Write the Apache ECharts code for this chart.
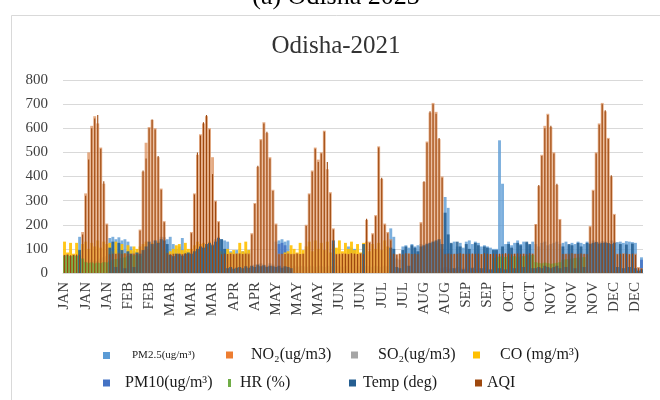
<!DOCTYPE html>
<html><head><meta charset="utf-8">
<script src="https://cdn.jsdelivr.net/npm/echarts@6/dist/echarts.min.js"></script>
<style>html,body{margin:0;padding:0;background:#fff}#c{width:660px;height:400px}</style>
</head><body><div id="c"></div>
<script>
const tickLabels = ['JAN','JAN','JAN','FEB','FEB','MAR','MAR','MAR','APR','APR','MAY','MAY','MAY','JUN','JUN','JUL','JUL','AUG','AUG','SEP','SEP','OCT','OCT','NOV','NOV','NOV','DEC','DEC'];
const seriesNames = ['PM2.5(ug/m³)','NO₂(ug/m3)','SO₂(ug/m3)','CO (mg/m³)','PM10(ug/m³)','HR (%)','Temp (deg)','AQI'];

const pm25 = [
30,40,45,40,50,150,60,
50,45,55,50,50,60,65,70,
145,150,140,148,135,140,130,110,90,85,
85,90,100,95,110,120,130,150,148,140,
150,120,100,110,145,90,80,90,
95,100,95,110,105,115,120,140,150,
140,135,130,90,85,95,80,90,85,95,
30,35,30,40,35,30,40,35,
130,135,140,130,135,80,
30,25,30,28,25,30,28,25,30,28,25,30,28,60,30,28,25,30,110,105,100,30,28,25,
30,28,25,30,28,25,30,28,
185,150,60,55,110,115,105,120,110,115,
120,110,125,120,130,125,130,100,
315,270,
120,130,110,125,105,130,135,120,130,125,110,115,110,105,100,
100,550,370,120,130,115,125,135,120,130,125,115,130,120,110,125,130,115,120,125,130,120,125,130,115,125,120,130,125,120,
130,125,135,130,128,132,130,125,135,130,128,130,125,132,130,128,125,
20,65];

const no2 = [
75,78,72,76,74,80,
170,330,500,610,650,620,520,370,205,
80,78,82,80,79,81,78,80,82,80,
180,420,540,605,635,600,480,350,215,
85,80,78,80,82,79,80,78,170,
330,490,575,620,650,600,480,300,215,
80,82,78,80,79,81,80,78,80,82,
165,290,440,555,625,580,480,345,205,
80,78,80,82,79,80,82,78,80,
200,330,425,520,470,500,590,430,335,185,
80,78,82,80,79,81,80,78,82,80,
220,130,165,240,525,390,205,170,140,
80,78,80,75,80,82,78,80,79,
211,377,545,665,705,668,555,400,
80,82,80,78,82,80,79,81,80,78,82,80,79,81,80,78,80,
80,78,82,80,79,81,80,78,82,80,79,81,80,
203,360,490,610,660,605,500,365,224,
80,78,82,80,79,81,80,78,80,
195,345,500,620,705,670,560,400,245,
80,78,82,80,79,81,80,
25,20];

const so2 = [
5,6,5,5,4,5,6,5,5,4,5,6,5,5,4,5,6,5,5,4,5,6,5,5,4,5,
6,5,5,4,5,6,5,5,4,5,6,5,5,4,5,6,5,5,4,5,6,5,5,4,5,6,
20,25,30,28,25,30,22,28,25,30,25,28,30,25,30,28,25,30,28,25,30,28,25,30,
5,6,5,5,4,5,6,5,5,4,5,6,5,5,4,5,6,5,5,4,
5,6,5,5,4,5,6,5,5,4,5,6,5,5,4,5,6,5,5,4,
5,6,5,5,4,5,6,5,5,4,5,6,5,5,4,5,6,5,5,4,
5,6,5,5,4,5,6,5,5,4,5,6,5,5,4,5,6,5,5,4,
5,6,5,5,4,5,6,5,5,4,5,6,5,5,4,5,6,5,5,4,
5,6,5,5,4,5,6,5,5,4,5,6,5,5,4,5];

const co = [
130,85,125,80,125,90,120,
130,100,125,110,135,105,130,120,125,
90,130,85,120,80,115,95,110,100,
110,120,130,100,125,115,130,105,95,85,
90,100,115,120,95,125,100,100,
115,130,120,125,110,130,115,105,95,
90,80,100,85,95,80,125,90,130,95,
4,3,5,4,3,5,4,3,5,4,3,
85,90,115,
100,85,125,95,110,130,90,135,100,125,95,130,85,120,105,135,90,125,100,130,95,120,85,125,
130,90,120,100,125,95,135,110,60,
5,3,4,5,3,4,5,3,4,
4,3,5,4,3,5,4,3,
4,5,4,3,5,4,3,5,4,3,5,4,3,5,4,3,5,
4,3,5,4,3,5,4,3,5,4,3,5,4,3,5,4,3,5,4,3,5,4,3,5,4,3,5,4,3,5,
4,3,5,4,3,5,4,3,5,4,3,5,4,3,5,4,3,
2,2];

const pm10 = [
4,4,4,4,4,4,4,4,4,4,4,4,4,4,4,4,4,4,4,4,
4,4,4,4,4,4,4,4,4,4,4,4,4,4,4,4,4,4,4,4,
4,4,4,4,4,4,4,4,4,4,4,4,4,4,4,4,4,4,4,4,
4,4,4,4,4,4,4,4,4,4,4,
120,125,115,
4,4,4,4,4,4,4,4,4,4,4,4,4,4,4,4,4,4,4,4,
4,4,4,4,4,4,4,4,4,4,4,4,4,4,4,4,4,4,4,4,
4,4,4,4,4,4,4,4,4,4,4,
20,25,18,20,15,25,18,22,15,20,25,18,20,15,22,18,10,8,
4,4,4,4,4,4,4,4,4,4,4,4,4,4,4,4,4,4,4,4,
4,4,4,4,4,4,4,4,4,4,4,4,4,4,4,4,4,4,4,4,
4,4,4,4,4,4,4,4,
55];

const hr = [
72,74,70,73,71,72,60,
45,42,44,40,43,41,45,44,48,
55,58,60,62,65,70,72,74,75,70,
0,0,0,0,0,0,0,0,0,0,0,0,0,0,0,0,0,0,0,0,
0,0,0,0,0,0,0,0,0,0,0,0,0,0,0,0,0,0,0,0,
0,0,0,0,0,0,0,0,0,0,0,0,0,0,0,0,0,0,0,0,
0,0,0,0,0,0,0,0,0,0,0,0,0,0,0,0,0,0,0,0,
0,0,0,0,0,0,0,0,0,0,0,0,0,0,0,0,0,0,0,0,
0,0,0,0,0,0,0,0,0,0,0,0,0,0,0,0,
62,
65,68,70,66,72,68,70,65,68,70,72,74,75,45,42,40,43,41,38,40,42,45,55,57,58,60,62,64,65,66,
0,0,0,0,0,0,0,0,0,0,0,0,0,0,0,0,0,0,0];

const temp = [
0,0,0,0,0,95,
0,0,0,0,0,0,0,0,0,
105,130,25,125,95,20,90,80,25,85,
80,95,110,130,120,135,125,140,135,120,
75,70,80,78,72,80,85,80,
90,100,110,105,120,125,115,130,145,
140,100,20,25,18,22,25,20,28,22,
30,25,35,28,32,25,30,28,25,30,22,28,25,20,
0,0,0,0,0,0,0,0,0,0,0,0,0,135,
0,0,0,0,0,0,0,0,0,120,
0,0,0,0,0,0,0,0,
105,100,25,20,95,110,30,115,105,90,
110,115,120,125,130,135,140,120,
250,160,
125,20,130,110,15,120,100,20,125,115,20,110,105,15,95,
95,20,110,15,120,105,20,125,115,25,130,120,20,20,25,20,30,25,20,25,30,20,110,25,120,115,20,125,110,25,
125,120,125,128,122,125,126,124,120,125,25,120,20,118,25,122,20,
10,15];

const aqi = [
75,76,74,75,77,76,
160,320,470,600,640,655,515,380,200,
78,80,79,81,80,82,80,78,80,79,
175,425,475,600,636,595,485,345,210,
82,78,80,79,80,78,82,80,165,
325,500,570,625,655,595,410,295,210,
78,80,79,80,78,80,81,79,80,78,
160,286,445,550,620,585,475,340,200,
78,80,79,80,78,78,80,79,80,
195,325,420,515,460,495,585,460,330,180,
78,80,79,80,78,82,80,79,80,78,
225,125,160,235,520,395,200,165,135,
80,76,80,78,82,80,79,80,78,
205,380,540,670,700,660,560,395,
78,80,78,80,79,82,80,78,80,81,79,80,78,82,80,79,80,
78,80,79,82,80,78,80,81,79,80,78,82,80,
200,365,485,600,655,610,495,370,220,
79,80,78,82,80,79,81,80,78,
190,340,495,615,700,675,555,405,240,
78,80,79,80,78,80,76,
20,18];

const SERIF = "'Liberation Serif','Times New Roman',serif";
const N = pm25.length;
const categories = Array.from({length: N}, (_, i) => tickLabels[Math.floor(i / 7)]);

function bar(name, data, color, opacity, axis, width) {
  return {
    name, type: 'bar', data, xAxisIndex: axis || 0, yAxisIndex: 0,
    barWidth: width || '96%', barGap: '-100%',
    itemStyle: {color, opacity}, silent: true, animation: false
  };
}

const colors = {
  pm25: '#5b9bd5', no2: '#d98850', so2: '#a5a5a5', co: '#ffc000',
  pm10: '#4472c4', hr: '#70ad47', temp: '#255e91', aqi: '#9e480e'
};

const series = [
  bar(seriesNames[0], pm25, colors.pm25, 0.8),
  bar(seriesNames[2], so2, colors.so2, 0.85),
  bar(seriesNames[4], pm10, colors.pm10, 0.85),
  bar(seriesNames[3], co, colors.co, 0.9),
  bar(seriesNames[1], no2, colors.no2, 0.7),
  bar(seriesNames[5], hr, colors.hr, 0.9),
  bar(seriesNames[6], temp, colors.temp, 0.85),
  bar(seriesNames[7], aqi, colors.aqi, 1, 1, 1.1)
];

function leg(name, left, top, fontSize, padLeft, iw, ih, iconColor) {
  return {
    data: [{name, itemStyle: {color: iconColor, opacity: 1}}], left, top, icon: 'rect',
    itemWidth: iw || 7, itemHeight: ih || 7, selectedMode: false,
    textStyle: {fontFamily: SERIF, fontSize, color: '#1a1a1a', padding: [0, 0, 0, padLeft]}
  };
}

const option = {
  animation: false,
  backgroundColor: '#fff',
  grid: {left: 63, right: 17, top: 80, bottom: 127, containLabel: false},
  xAxis: [
    {type: 'category', data: categories, boundaryGap: true,
     axisLine: {lineStyle: {color: '#d9d9d9'}}, axisTick: {show: false},
     axisLabel: {interval: 6, rotate: 90, fontFamily: SERIF, fontSize: 15, color: '#404040', margin: 9}},
    {type: 'category', data: categories, show: false}
  ],
  yAxis: {type: 'value', min: 0, max: 800, interval: 100,
    axisLine: {show: false}, axisTick: {show: false},
    splitLine: {lineStyle: {color: '#d9d9d9'}},
    axisLabel: {fontFamily: SERIF, fontSize: 15, color: '#404040', margin: 15}},
  legend: [
    leg(seriesNames[0], 98, 345, 11, 17, 7, 7, '#5b9bd5'),
    leg(seriesNames[1], 221, 342, 16, 13, 7, 7, '#ed7d31'),
    leg(seriesNames[2], 346, 342, 16, 15, 7, 7, '#a5a5a5'),
    leg(seriesNames[3], 468, 342, 16, 15, 7, 7, '#ffc000'),
    leg(seriesNames[4], 98, 370, 16, 10, 7, 7, '#4472c4'),
    leg(seriesNames[5], 223, 370, 16, 4, 3, 8, '#70ad47'),
    leg(seriesNames[6], 344, 370, 16, 2, 7, 7, '#255e91'),
    leg(seriesNames[7], 470, 370, 16, 0, 7, 7, '#9e480e')
  ],
  graphic: [
    {type: 'rect', shape: {x: 11.5, y: 15.5, width: 700, height: 450}, style: {fill: 'none', stroke: '#d9d9d9', lineWidth: 1}, silent: true, z: -10},
    {type: 'text', x: 336, y: 10, style: {text: '(a) Odisha 2023', font: "26px 'Liberation Serif'", fill: '#000', align: 'center', verticalAlign: 'bottom'}},
    {type: 'text', x: 336, y: 46, style: {text: 'Odisha-2021', font: "25px 'Liberation Serif'", fill: '#333', align: 'center', verticalAlign: 'middle'}}
  ],
  series
};

const chart = echarts.init(document.getElementById('c'), null, {renderer: 'canvas'});
chart.setOption(option);
</script>
</body></html>
